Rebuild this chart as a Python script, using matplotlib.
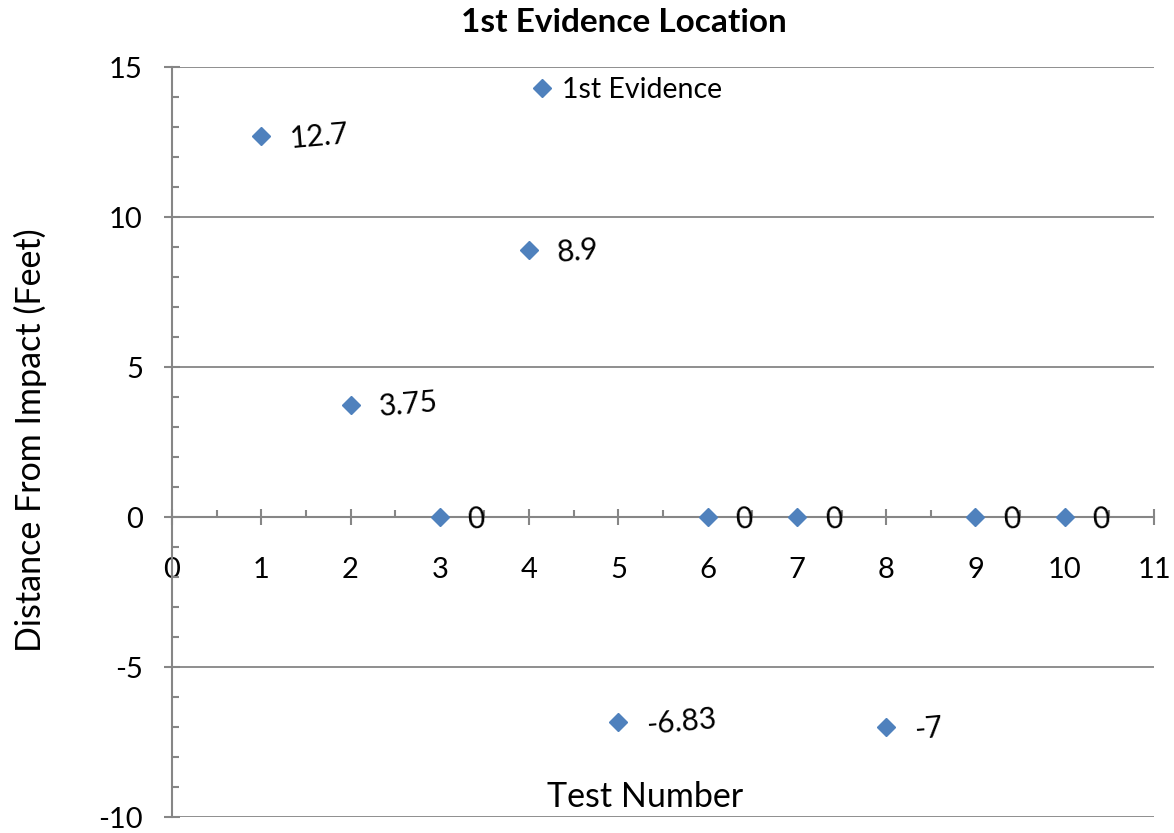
import matplotlib
matplotlib.use("Agg")
import matplotlib.pyplot as plt
from matplotlib.ticker import MultipleLocator

# data
test_number = [1, 2, 3, 4, 5, 6, 7, 8, 9, 10]
distance = [12.7, 3.75, 0, 8.9, -6.83, 0, 0, -7, 0, 0]
point_labels = ["12.7", "3.75", "0", "8.9", "-6.83", "0", "0", "-7", "0", "0"]

plt.rcParams["font.family"] = ["Lato", "DejaVu Sans"]
plt.rcParams["font.size"] = 21
plt.rcParams["axes.unicode_minus"] = False

grey = "#868686"
blue = "#4F81BD"

fig = plt.figure(figsize=(11.74, 8.33), dpi=100)
ax = fig.add_axes([172 / 1174, 1 - 817 / 833, (1154 - 172) / 1174, (817 - 67) / 833])

ax.plot(test_number, distance, linestyle="none", marker="D", markersize=9.5,
        color=blue, label="1st Evidence", zorder=3, clip_on=False)

for x, y, s in zip(test_number, distance, point_labels):
    ax.annotate(s, (x, y), xytext=(28, -3), textcoords="offset pixels",
                ha="left", va="center", rotation=5, fontsize=21.5,
                rotation_mode="anchor")

ax.set_xlim(0, 11)
ax.set_ylim(-10, 15)
ax.xaxis.set_major_locator(MultipleLocator(1))
ax.xaxis.set_minor_locator(MultipleLocator(0.5))
ax.yaxis.set_major_locator(MultipleLocator(5))
ax.yaxis.set_minor_locator(MultipleLocator(1))

ax.spines["bottom"].set_position(("data", 0))
ax.spines["top"].set_visible(False)
ax.spines["right"].set_visible(False)
for side in ["bottom", "left"]:
    ax.spines[side].set_color(grey)
    ax.spines[side].set_linewidth(1.5)

ax.yaxis.grid(True, which="major", color=grey, linewidth=1.3)
ax.set_axisbelow(True)

ax.tick_params(axis="both", which="major", direction="inout", length=12,
               width=1.5, color=grey, labelsize=21)
ax.tick_params(axis="both", which="minor", direction="in", length=5,
               width=1.5, color=grey)
ax.tick_params(axis="x", which="major", pad=23)
ax.tick_params(axis="y", which="major", pad=15)

leg = ax.legend(loc="center left", bbox_to_anchor=(528 / 1174, 1 - 90 / 833),
                bbox_transform=fig.transFigure, frameon=False, fontsize=20.5,
                handlelength=1, handletextpad=0.2, borderpad=0, borderaxespad=0,
                markerscale=0.95)

fig.text(645 / 1174, 1 - 797 / 833, "Test Number",
         ha="center", va="center", fontsize=24.5)
fig.text(30 / 1174, 1 - 440 / 833, "Distance From Impact (Feet)",
         ha="center", va="center", rotation=90, fontsize=24.5)
fig.text(624 / 1174, 1 - 22 / 833, "1st Evidence Location",
         ha="center", va="center", fontsize=24, fontweight="bold")

fig.savefig("out.png", dpi=100)
